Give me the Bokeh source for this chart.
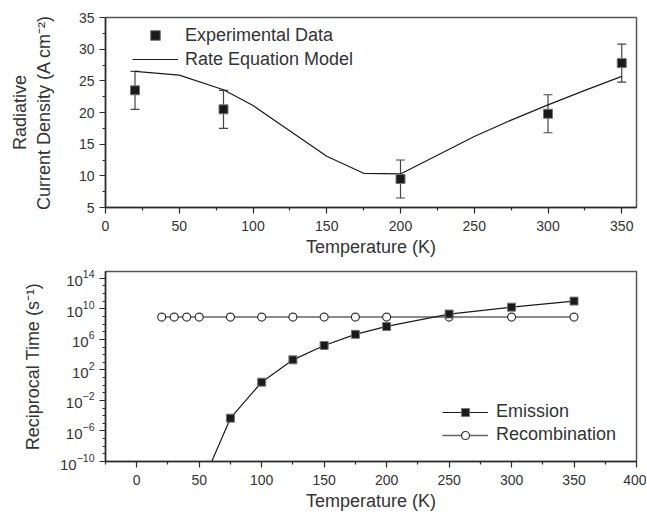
from bokeh.plotting import figure
from bokeh.models import (Range1d, FixedTicker, Whisker, TeeHead, ColumnDataSource,
                          Legend, LegendItem, LogTickFormatter)
from bokeh.layouts import column
from bokeh.embed import file_html
from bokeh.resources import INLINE

# ---- top panel data ----
exp_T = [20, 80, 200, 300, 350]
exp_J = [23.5, 20.5, 9.5, 19.8, 27.8]
exp_err = [3.0, 3.0, 3.0, 3.0, 3.0]
model_T = [20, 50, 80, 100, 150, 175, 200, 250, 275, 300, 325, 350]
model_J = [26.5, 25.9, 23.6, 21.1, 13.1, 10.4, 10.3, 16.2, 18.8, 21.2, 23.5, 25.7]

# ---- bottom panel data ----
emis_T = [50, 75, 100, 125, 150, 175, 200, 250, 300, 350]
emis_rate = [1.6e-14, 4.8e-5, 2.5e0, 2.1e3, 1.6e5, 4.6e6, 5.0e7, 2.1e9, 1.7e10, 1.05e11]
recomb_T = [20, 30, 40, 50, 75, 100, 125, 150, 175, 200, 250, 300, 350]
recomb_rate = [8.5e8] * 13

top_xticks = [0, 50, 100, 150, 200, 250, 300, 350]
top_xminor = [25, 75, 125, 175, 225, 275, 325]
top_yticks = [5, 10, 15, 20, 25, 30, 35]
top_yminor = [7.5, 12.5, 17.5, 22.5, 27.5, 32.5]
bot_xticks = [0, 50, 100, 150, 200, 250, 300, 350, 400]
bot_xminor = [-25, 25, 75, 125, 175, 225, 275, 325, 375]
bot_yexp = [-10, -6, -2, 2, 6, 10, 14]
bot_yminor_exp = list(range(-10, 15))

FONT = "Liberation Sans"
AX = "#2b2b2b"


def style(p):
    p.grid.visible = False
    p.outline_line_color = "#555555"
    p.outline_line_width = 1.5
    p.background_fill_color = "white"
    p.border_fill_color = "white"
    for ax in p.axis:
        ax.axis_line_color = AX
        ax.axis_line_width = 1.5
        ax.major_tick_line_color = AX
        ax.minor_tick_line_color = AX
        ax.major_tick_line_width = 1.2
        ax.minor_tick_line_width = 1.2
        ax.major_tick_in = 0
        ax.major_tick_out = 6
        ax.minor_tick_in = 0
        ax.minor_tick_out = 3
        ax.major_label_text_font = FONT
        ax.major_label_text_font_size = "14px"
        ax.major_label_text_color = "#333333"
        ax.axis_label_text_font = FONT
        ax.axis_label_text_font_size = "18px"
        ax.axis_label_text_font_style = "normal"
        ax.axis_label_text_color = "#333333"


# ---------------- top figure ----------------
p1 = figure(frame_width=531, frame_height=190, output_backend="svg", toolbar_location=None,
            x_range=Range1d(0, 360), y_range=Range1d(5, 35),
            min_border_left=105, min_border_right=10, min_border_top=17, min_border_bottom=51)
style(p1)
p1.xaxis.ticker = FixedTicker(ticks=top_xticks, minor_ticks=top_xminor)
p1.yaxis.ticker = FixedTicker(ticks=top_yticks, minor_ticks=top_yminor)
p1.xaxis.axis_label = "Temperature (K)"
p1.yaxis.axis_label = "Radiative\nCurrent Density (A cm\u207b\u00b2)"
p1.xaxis.major_label_standoff = 7
p1.xaxis.axis_label_standoff = 3
p1.yaxis.major_label_standoff = 5
p1.yaxis.axis_label_standoff = 22

src = ColumnDataSource(dict(x=exp_T, y=exp_J,
                            lo=[v - e for v, e in zip(exp_J, exp_err)],
                            hi=[v + e for v, e in zip(exp_J, exp_err)]))
wh = Whisker(source=src, base="x", lower="lo", upper="hi", dimension="height",
             line_color="#444444", line_width=1.2,
             upper_head=TeeHead(size=9, line_color="#444444", line_width=1.2),
             lower_head=TeeHead(size=9, line_color="#444444", line_width=1.2))
p1.add_layout(wh)
r_model = p1.line(model_T, model_J, line_color="#1a1a1a", line_width=1.2)
r_exp = p1.scatter("x", "y", source=src, marker="square", size=9,
                   fill_color="#1a1a1a", line_color="#777777", line_width=1)

leg1 = Legend(items=[LegendItem(label="Experimental Data", renderers=[r_exp]),
                     LegendItem(label="Rate Equation Model", renderers=[r_model])],
              location=(27, 136), margin=0, padding=0, spacing=0,
              glyph_width=46, glyph_height=24, label_height=24, label_standoff=7,
              label_text_font=FONT, label_text_font_size="18px", label_text_color="#333333",
              background_fill_alpha=0, border_line_alpha=0)
p1.add_layout(leg1)

# ---------------- bottom figure ----------------
p2 = figure(frame_width=531, frame_height=190, output_backend="svg", toolbar_location=None,
            x_range=Range1d(-25, 400), y_range=Range1d(1e-10, 10 ** 14.9), y_axis_type="log",
            min_border_left=105, min_border_right=10, min_border_top=12, min_border_bottom=45)
style(p2)
p2.xaxis.ticker = FixedTicker(ticks=bot_xticks, minor_ticks=bot_xminor)
p2.yaxis.ticker = FixedTicker(ticks=[10.0 ** e for e in bot_yexp],
                              minor_ticks=[10.0 ** e for e in bot_yminor_exp])
p2.yaxis.formatter = LogTickFormatter()
p2.yaxis.major_label_text_font_size = "15px"
p2.xaxis.axis_label = "Temperature (K)"
p2.yaxis.axis_label = "Reciprocal Time (s\u207b\u00b9)"
p2.xaxis.major_label_standoff = 7
p2.xaxis.axis_label_standoff = 3
p2.yaxis.major_label_standoff = 5
p2.yaxis.axis_label_standoff = 14

r_rl = p2.line(recomb_T, recomb_rate, line_color="#666666", line_width=1.5)
r_rm = p2.scatter(recomb_T, recomb_rate, marker="circle", size=8,
                  fill_color="white", line_color="#333333", line_width=1.2)
r_el = p2.line(emis_T, emis_rate, line_color="#1a1a1a", line_width=1.2)
r_em = p2.scatter(emis_T, emis_rate, marker="square", size=8,
                  fill_color="#1a1a1a", line_color="#777777", line_width=1)

leg2 = Legend(items=[LegendItem(label="Emission", renderers=[r_el, r_em]),
                     LegendItem(label="Recombination", renderers=[r_rl, r_rm])],
              location=(337, 15), margin=0, padding=0, spacing=0,
              glyph_width=46, glyph_height=20, label_height=23, label_standoff=8,
              label_text_font=FONT, label_text_font_size="18px", label_text_color="#333333",
              background_fill_alpha=0, border_line_alpha=0)
p2.add_layout(leg2)

layout = column(p1, p2, spacing=0)
open("out.html", "w").write(file_html(layout, INLINE))
